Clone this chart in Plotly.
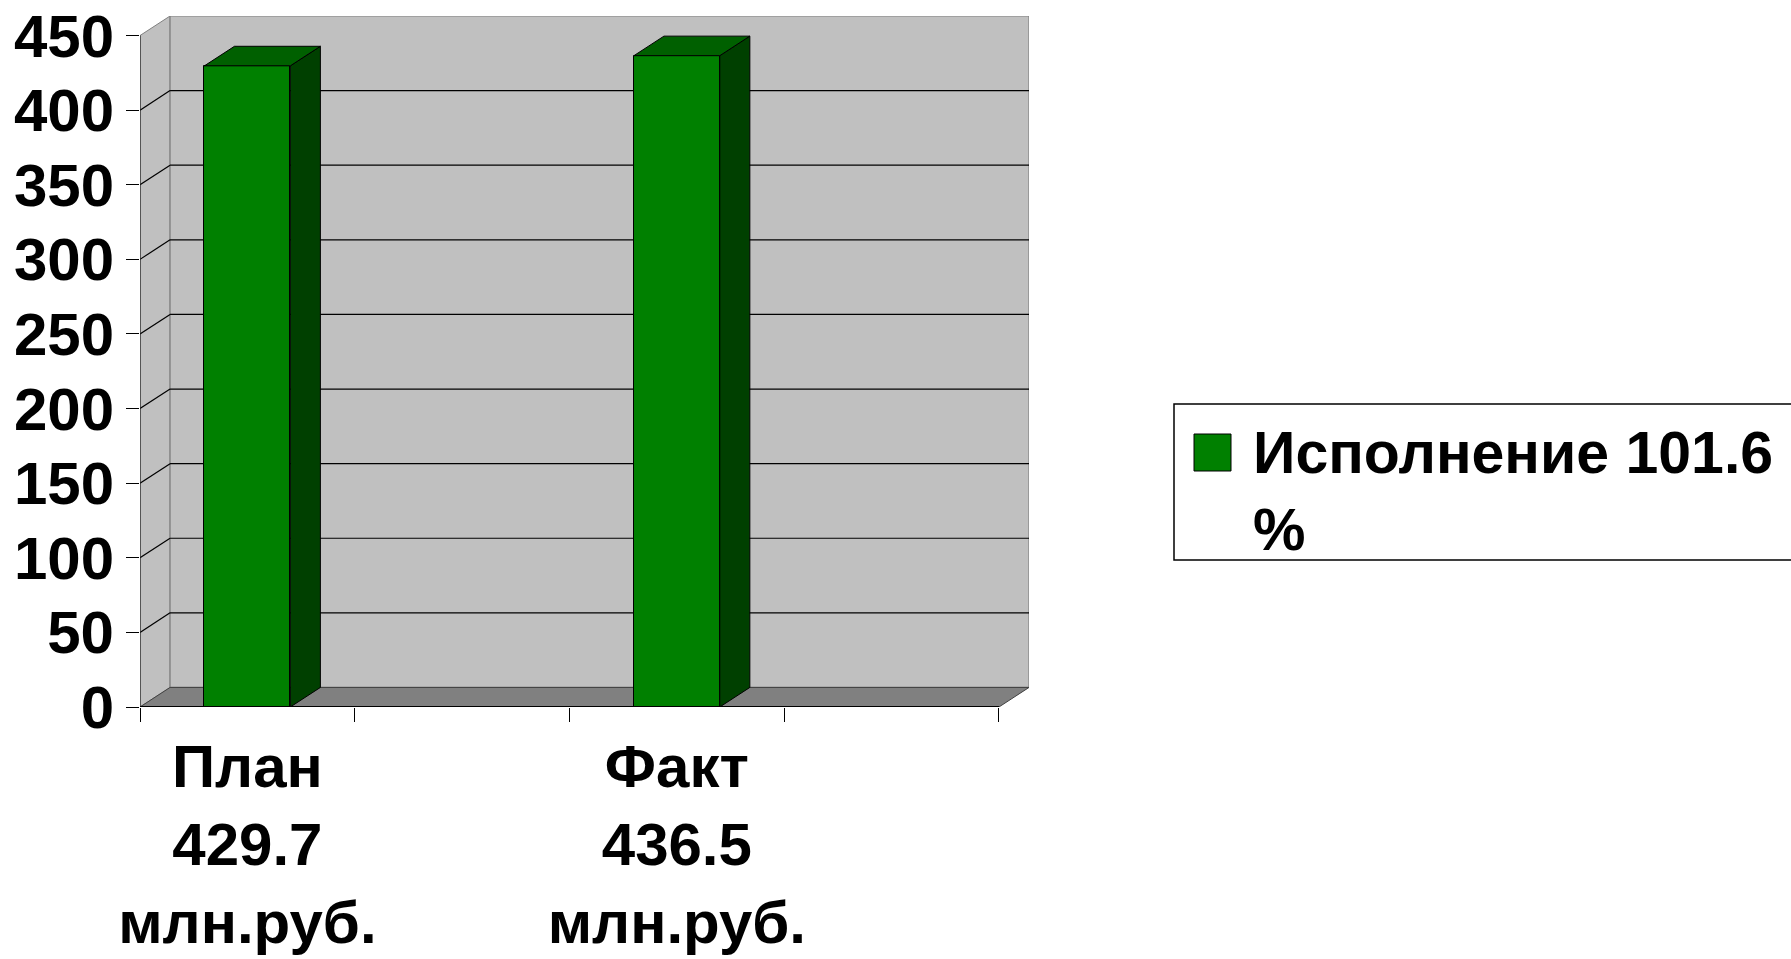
import plotly.graph_objects as go

# ---- data ----
categories = ["План<br>429.7<br>млн.руб.", "", "Факт<br>436.5<br>млн.руб.", ""]
values = [429.7, None, 436.5, None]
series_name = "Исполнение 101.6<br>%"
y_ticks = [0, 50, 100, 150, 200, 250, 300, 350, 400, 450]

# ---- style / geometry ----
FONT = "Liberation Sans, Arial, sans-serif"
DX = 0.14      # depth offset in category units
DY = 13.1      # depth offset in value units
BAR_W = 0.4
FRONT = "#008000"
SIDE = "#004000"
TOP = "#006000"
WALL = "#C0C0C0"
FLOOR = "#808080"

W, H = 1791, 959
ML, MR, MT, MB = 140, 762, 16, 252
PW, PH = W - ML - MR, H - MT - MB

n = len(categories)
xs = list(range(n))
ymax = y_ticks[-1]
xl, xr = -0.5, n - 0.5

def px_x(p):
    return (p - ML) / PW

def px_y(p):
    return (H - MB - p) / PH

fig = go.Figure()

# front faces
fig.add_trace(go.Bar(
    x=xs, y=values, width=BAR_W,
    marker=dict(color=FRONT, line=dict(color="black", width=1)),
    showlegend=False, name=series_name.replace("<br>", " "),
))

# side and top faces
for x, v in zip(xs, values):
    if v is None:
        continue
    r = x + BAR_W / 2
    l = x - BAR_W / 2
    fig.add_trace(go.Scatter(
        x=[r, r, r + DX, r + DX, r], y=[0, v, v + DY, DY, 0],
        mode="lines", fill="toself", fillcolor=SIDE,
        line=dict(color="black", width=1), showlegend=False, hoverinfo="skip"))
    fig.add_trace(go.Scatter(
        x=[l, r, r + DX, l + DX, l], y=[v, v, v + DY, v + DY, v],
        mode="lines", fill="toself", fillcolor=TOP,
        line=dict(color="black", width=1), showlegend=False, hoverinfo="skip"))

shapes = []
# left wall
shapes.append(dict(type="path", xref="x", yref="y", layer="below",
                   path=f"M {xl},0 L {xl},{ymax} L {xl+DX},{ymax+DY} L {xl+DX},{DY} Z",
                   fillcolor=WALL, line=dict(color="#808080", width=1)))
# back wall
shapes.append(dict(type="rect", xref="x", yref="y", layer="below",
                   x0=xl + DX, x1=xr + DX, y0=DY, y1=ymax + DY,
                   fillcolor=WALL, line=dict(color="#808080", width=1.2)))
# floor
shapes.append(dict(type="path", xref="x", yref="y", layer="below",
                   path=f"M {xl},0 L {xr},0 L {xr+DX},{DY} L {xl+DX},{DY} Z",
                   fillcolor=FLOOR, line=dict(color="#404040", width=1)))
# gridlines
for v in y_ticks[1:-1]:
    shapes.append(dict(type="line", xref="x", yref="y", layer="below",
                       x0=xl + DX, x1=xr + DX, y0=v + DY, y1=v + DY,
                       line=dict(color="black", width=1.2)))
    shapes.append(dict(type="line", xref="x", yref="y", layer="below",
                       x0=xl, x1=xl + DX, y0=v, y1=v + DY,
                       line=dict(color="black", width=1.2)))
# front-left edge (value axis line)
shapes.append(dict(type="line", xref="x", yref="y", layer="below",
                   x0=xl, x1=xl, y0=0, y1=ymax, line=dict(color="#202020", width=1.2)))
# front floor edge (axis line)
shapes.append(dict(type="line", xref="x", yref="y", layer="above",
                   x0=xl, x1=xr, y0=0, y1=0, line=dict(color="black", width=2)))

# legend (box, swatch)
shapes.append(dict(type="rect", xref="paper", yref="paper",
                   x0=px_x(1174), x1=px_x(1800), y0=px_y(560), y1=px_y(404),
                   fillcolor="white", line=dict(color="black", width=1.5)))
shapes.append(dict(type="rect", xref="paper", yref="paper",
                   x0=px_x(1194), x1=px_x(1231), y0=px_y(471), y1=px_y(434),
                   fillcolor=FRONT, line=dict(color="black", width=1)))

fig.add_annotation(
    x=px_x(1251), y=px_y(491), xref="paper", yref="paper",
    xanchor="left", yanchor="middle", align="left", showarrow=False,
    text=series_name,
    font=dict(family=FONT, size=59, color="black", weight="bold"))

fig.update_layout(
    width=W, height=H,
    margin=dict(l=ML, r=MR, t=MT, b=MB, autoexpand=False),
    paper_bgcolor="white", plot_bgcolor="white",
    shapes=shapes, bargap=0,
    xaxis=dict(
        range=[xl, xr + DX], tickmode="array", tickvals=xs, ticktext=categories,
        ticks="", showgrid=False, zeroline=False, showline=False,
        ticklabelstandoff=19,
        tickfont=dict(family=FONT, size=60, color="black", weight="bold"),
        minor=dict(tickmode="array", tickvals=[i - 0.5 for i in range(n + 1)],
                   ticks="outside", ticklen=14, tickcolor="black", tickwidth=1,
                   showgrid=False),
    ),
    yaxis=dict(
        range=[0, ymax + DY], tickmode="array", tickvals=y_ticks,
        ticks="outside", ticklen=13, tickcolor="black", tickwidth=1,
        showgrid=False, zeroline=False, showline=False,
        tickfont=dict(family=FONT, size=60, color="black", weight="bold"),
    ),
)

fig.write_html("out.html", config={"displayModeBar": False},
               post_script="document.body.style.margin='0';")
